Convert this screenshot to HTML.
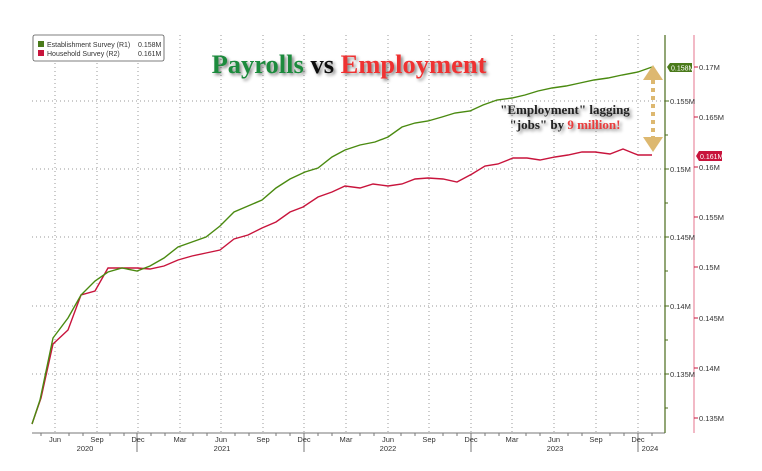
<!DOCTYPE html>
<html><head><meta charset="utf-8"><style>
body{margin:0;background:#fff}
svg{font-family:"Liberation Sans",sans-serif}
</style></head><body>
<svg width="762" height="466" xmlns="http://www.w3.org/2000/svg">
<defs><filter id="sh" x="-10%" y="-30%" width="130%" height="160%"><feGaussianBlur in="SourceAlpha" stdDeviation="1.5"/><feOffset dx="2" dy="2"/><feComponentTransfer><feFuncA type="linear" slope="0.5"/></feComponentTransfer><feMerge><feMergeNode/><feMergeNode in="SourceGraphic"/></feMerge></filter></defs>
<g stroke="#999" stroke-width="1" stroke-dasharray="1,3">
<line x1="32" y1="101" x2="665" y2="101"/><line x1="32" y1="169" x2="665" y2="169"/><line x1="32" y1="237" x2="665" y2="237"/><line x1="32" y1="306" x2="665" y2="306"/><line x1="32" y1="374" x2="665" y2="374"/>
<line x1="55" y1="35" x2="55" y2="433"/><line x1="97" y1="35" x2="97" y2="433"/><line x1="138" y1="35" x2="138" y2="433"/><line x1="180" y1="35" x2="180" y2="433"/><line x1="221" y1="35" x2="221" y2="433"/><line x1="263" y1="35" x2="263" y2="433"/><line x1="304" y1="35" x2="304" y2="433"/><line x1="346" y1="35" x2="346" y2="433"/><line x1="388" y1="35" x2="388" y2="433"/><line x1="429" y1="35" x2="429" y2="433"/><line x1="471" y1="35" x2="471" y2="433"/><line x1="512" y1="35" x2="512" y2="433"/><line x1="554" y1="35" x2="554" y2="433"/><line x1="596" y1="35" x2="596" y2="433"/><line x1="638" y1="35" x2="638" y2="433"/>
</g>
<line x1="32" y1="433" x2="665" y2="433" stroke="#777"/>
<g stroke="#777"><line x1="41" y1="433" x2="41" y2="436"/><line x1="69" y1="433" x2="69" y2="436"/><line x1="83" y1="433" x2="83" y2="436"/><line x1="110" y1="433" x2="110" y2="436"/><line x1="124" y1="433" x2="124" y2="436"/><line x1="151" y1="433" x2="151" y2="436"/><line x1="165" y1="433" x2="165" y2="436"/><line x1="193" y1="433" x2="193" y2="436"/><line x1="207" y1="433" x2="207" y2="436"/><line x1="235" y1="433" x2="235" y2="436"/><line x1="249" y1="433" x2="249" y2="436"/><line x1="276" y1="433" x2="276" y2="436"/><line x1="290" y1="433" x2="290" y2="436"/><line x1="318" y1="433" x2="318" y2="436"/><line x1="332" y1="433" x2="332" y2="436"/><line x1="360" y1="433" x2="360" y2="436"/><line x1="374" y1="433" x2="374" y2="436"/><line x1="401" y1="433" x2="401" y2="436"/><line x1="415" y1="433" x2="415" y2="436"/><line x1="443" y1="433" x2="443" y2="436"/><line x1="457" y1="433" x2="457" y2="436"/><line x1="485" y1="433" x2="485" y2="436"/><line x1="499" y1="433" x2="499" y2="436"/><line x1="526" y1="433" x2="526" y2="436"/><line x1="540" y1="433" x2="540" y2="436"/><line x1="568" y1="433" x2="568" y2="436"/><line x1="582" y1="433" x2="582" y2="436"/><line x1="610" y1="433" x2="610" y2="436"/><line x1="624" y1="433" x2="624" y2="436"/><line x1="652" y1="433" x2="652" y2="436"/>
<line x1="137" y1="433" x2="137" y2="452"/><line x1="304" y1="433" x2="304" y2="452"/><line x1="471" y1="433" x2="471" y2="452"/><line x1="638" y1="433" x2="638" y2="452"/></g>
<g font-size="7.5" fill="#333" text-anchor="middle">
<text x="55" y="442">Jun</text><text x="97" y="442">Sep</text><text x="138" y="442">Dec</text><text x="180" y="442">Mar</text><text x="221" y="442">Jun</text><text x="263" y="442">Sep</text><text x="304" y="442">Dec</text><text x="346" y="442">Mar</text><text x="388" y="442">Jun</text><text x="429" y="442">Sep</text><text x="471" y="442">Dec</text><text x="512" y="442">Mar</text><text x="554" y="442">Jun</text><text x="596" y="442">Sep</text><text x="638" y="442">Dec</text>
<text x="85" y="451">2020</text><text x="222" y="451">2021</text><text x="388" y="451">2022</text><text x="555" y="451">2023</text><text x="650" y="451">2024</text></g>
<line x1="665" y1="35" x2="665" y2="433" stroke="#4a6b1a" stroke-width="1.2"/>
<line x1="694" y1="35" x2="694" y2="433" stroke="#e88ba0" stroke-width="1.2"/>
<g stroke="#4a6b1a"><line x1="665" y1="101" x2="669" y2="101"/><line x1="665" y1="169" x2="669" y2="169"/><line x1="665" y1="237" x2="669" y2="237"/><line x1="665" y1="306" x2="669" y2="306"/><line x1="665" y1="374" x2="669" y2="374"/><line x1="665" y1="135" x2="668" y2="135"/><line x1="665" y1="203" x2="668" y2="203"/><line x1="665" y1="271" x2="668" y2="271"/><line x1="665" y1="340" x2="668" y2="340"/><line x1="665" y1="408" x2="668" y2="408"/></g>
<g stroke="#c8143c"><line x1="694" y1="67" x2="698" y2="67"/><line x1="694" y1="117" x2="698" y2="117"/><line x1="694" y1="167" x2="698" y2="167"/><line x1="694" y1="217" x2="698" y2="217"/><line x1="694" y1="267" x2="698" y2="267"/><line x1="694" y1="318" x2="698" y2="318"/><line x1="694" y1="368" x2="698" y2="368"/><line x1="694" y1="418" x2="698" y2="418"/></g>
<g font-size="7.5" fill="#333">
<text x="670" y="104">0.155M</text><text x="670" y="172">0.15M</text><text x="670" y="240">0.145M</text><text x="670" y="309">0.14M</text><text x="670" y="377">0.135M</text>
<text x="699" y="70">0.17M</text><text x="699" y="120">0.165M</text><text x="699" y="170">0.16M</text><text x="699" y="220">0.155M</text><text x="699" y="270">0.15M</text><text x="699" y="321">0.145M</text><text x="699" y="371">0.14M</text><text x="699" y="421">0.135M</text></g>
<polygon points="667,67 670,63 692,63 692,72 670,72" fill="#4a7a1a"/>
<text x="671" y="70.5" font-size="7" fill="#fff">0.158M</text>
<polygon points="696,156 699,151 722,151 722,161 699,161" fill="#c8143c"/>
<text x="700" y="159" font-size="7" fill="#fff">0.161M</text>
<polyline fill="none" stroke="#c8143c" stroke-width="1.4" points="32,424 41,398 53,344 68,330 81,295 95,291 108,268 122,268 137,268 150,269 164,266 178,260 192,256 206,253 220,250 234,239 248,235 262,228 276,222 290,212 303,207 318,197 332,192 345,186 360,188 373,184 388,186 402,184 415,179 428,178 443,179 457,182 472,174 485,166 498,164 513,158 527,158 540,160 555,157 568,155 582,152 595,152 610,154 623,149 638,155 652,155"/>
<polyline fill="none" stroke="#4a8a10" stroke-width="1.4" points="32,424 40,400 53,338 68,318 81,295 95,281 108,272 122,268 137,271 150,266 164,258 178,247 192,242 206,237 220,226 234,212 248,206 262,200 276,188 290,179 305,172 318,168 332,157 345,150 360,145 375,142 388,137 402,127 415,123 428,121 442,117 455,113 470,111 483,105 497,100 512,98 525,95 538,91 552,88 566,86 580,83 594,80 608,78 622,75 638,72 652,67"/>
<rect x="33" y="35" width="131" height="26" rx="2" fill="#fff" stroke="#555" stroke-width="0.8"/>
<rect x="38" y="41" width="6" height="6" fill="#4a7a1a"/><rect x="38" y="50" width="6" height="6" fill="#c8143c"/>
<g font-size="7" fill="#333"><text x="47" y="47">Establishment Survey (R1)</text><text x="138" y="47">0.158M</text><text x="47" y="56">Household Survey (R2)</text><text x="138" y="56">0.161M</text></g>
<text x="349" y="73" text-anchor="middle" style="font-family:'Liberation Serif',serif;font-weight:bold;font-size:26.5px" filter="url(#sh)"><tspan fill="#1e8a3c">Payrolls</tspan><tspan fill="#111"> vs </tspan><tspan fill="#ee3333">Employment</tspan></text>
<g style="font-family:'Liberation Serif',serif;font-weight:bold;font-size:13px" text-anchor="middle" filter="url(#sh)">
<text x="565" y="114" fill="#222">"Employment" lagging</text>
<text x="565" y="129" fill="#222">"jobs" by <tspan fill="#e83c3c">9 million!</tspan></text></g>
<line x1="653" y1="80" x2="653" y2="138" stroke="#ddb870" stroke-width="4" stroke-dasharray="4,4"/>
<polygon points="653,65 643,80 663,80" fill="#ddb870"/>
<polygon points="653,152 643,137 663,137" fill="#ddb870"/>
</svg>
</body></html>
